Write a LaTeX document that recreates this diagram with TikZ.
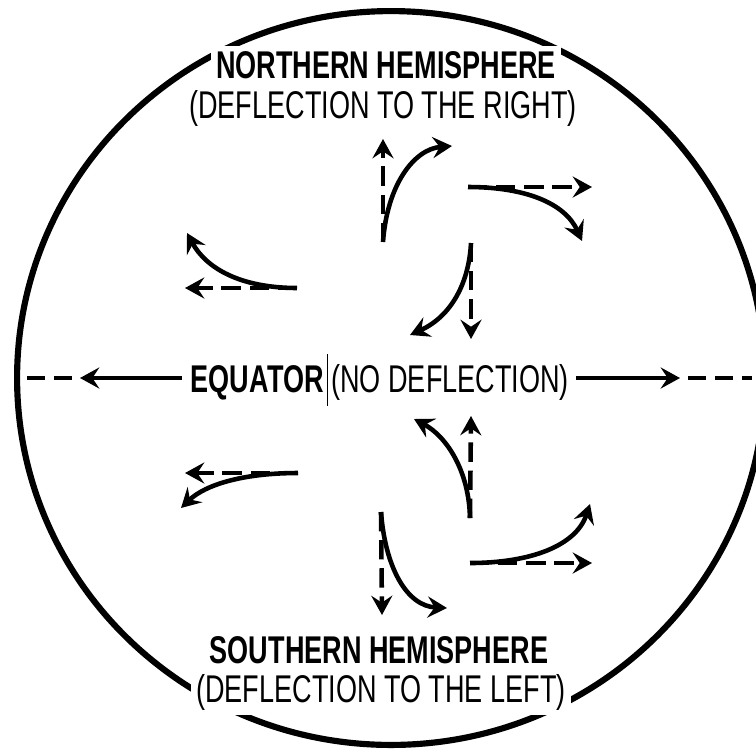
\documentclass[tikz,border=0pt]{standalone}
\usepackage{fontspec}
\setmainfont{Liberation Sans}[FakeStretch=0.70]
\usetikzlibrary{arrows.meta}

\begin{document}
\begin{tikzpicture}[
  x=0.02cm, y=-0.02cm,
  rim/.style         = {line width=3.5pt},
  deflected/.style   = {-{Stealth[length=11pt, width=12pt, inset=4pt]}, line width=2.6pt},
  undeflected/.style = {deflected, dash pattern=on 11pt off 5pt},
  trail/.style       = {line width=2.6pt, dash pattern=on 10pt off 5.5pt},
  title/.style       = {font=\fontsize{22}{26}\selectfont\bfseries, fill=white,
                        inner sep=3pt, anchor=base},
  note/.style        = {font=\fontsize{22}{26}\selectfont, fill=white,
                        inner sep=3pt, anchor=base},
]

% page and globe
\path[use as bounding box, fill=white] (0,0) rectangle (756,751);
\draw[rim] (391,378) ellipse [x radius=7.48cm, y radius=7.34cm];

% labels
\node[title] (north)   at (386,78)  {NORTHERN HEMISPHERE};
\node[note]  (northx)  at (383,118) {(DEFLECTION TO THE RIGHT)};
\node[title] (south)   at (379,663) {SOUTHERN HEMISPHERE};
\node[note]  (southx)  at (381,702) {(DEFLECTION TO THE LEFT)};
\node[title, anchor=base east, inner sep=0pt] (equator) at (324,392) {EQUATOR};
\node[note, anchor=base west, inner sep=0pt]  (nodefl)  at (331,392) {(NO DEFLECTION)};

\coordinate (bartop) at (327.5,354);
\coordinate (barbot) at (327.5,406);
\draw[line width=0.8pt] (bartop) -- (barbot);

% equator: no deflection
\coordinate (eqw)     at (182,378);
\coordinate (eqwtip)  at (80,378);
\coordinate (eqwgap)  at (72,378);
\coordinate (eqwend)  at (24,378);
\coordinate (eqe)     at (576,378);
\coordinate (eqetip)  at (680,378);
\coordinate (eqegap)  at (688,378);
\coordinate (eqeend)  at (752,378);
\draw[deflected] (eqw) -- (eqwtip);
\draw[trail]     (eqwgap) -- (eqwend);
\draw[deflected] (eqe) -- (eqetip);
\draw[trail]     (eqegap) -- (eqeend);

% northern hemisphere
\coordinate (na)  at (383,242);
\coordinate (nad) at (383,139);
\coordinate (nae) at (452,146);
\draw[undeflected] (na) -- (nad);
\draw[deflected] (na) .. controls (387,185) and (414,149) .. (nae);

\coordinate (nb)  at (468,187);
\coordinate (nbd) at (592,187);
\coordinate (nbe) at (582,241);
\draw[undeflected] (nb) -- (nbd);
\draw[deflected] (nb) .. controls (525,187) and (565,203) .. (nbe);

\coordinate (nc)  at (471,243);
\coordinate (ncd) at (471,339);
\coordinate (nce) at (410,335);
\draw[undeflected] (nc) -- (ncd);
\draw[deflected] (nc) .. controls (469,282) and (452,316) .. (nce);

\coordinate (nd)  at (297,288);
\coordinate (ndd) at (185,288);
\coordinate (nde) at (187,233);
\draw[undeflected] (nd) -- (ndd);
\draw[deflected] (nd) .. controls (240,288) and (206,268) .. (nde);

% southern hemisphere
\coordinate (sa)  at (470,518);
\coordinate (sad) at (471,416);
\coordinate (sae) at (414,419);
\draw[undeflected] (sa) -- (sad);
\draw[deflected] (sa) .. controls (469,470) and (446,436) .. (sae);

\coordinate (sb)  at (298,473);
\coordinate (sbd) at (185,473);
\coordinate (sbe) at (181,508);
\draw[undeflected] (sb) -- (sbd);
\draw[deflected] (sb) .. controls (245,473) and (206,484) .. (sbe);

\coordinate (sc)  at (381,512);
\coordinate (scd) at (382,615);
\coordinate (sce) at (447,608);
\draw[undeflected] (sc) -- (scd);
\draw[deflected] (sc) .. controls (385,566) and (406,606) .. (sce);

\coordinate (sd)  at (470,563);
\coordinate (sdd) at (592,563);
\coordinate (sde) at (590,504);
\draw[undeflected] (sd) -- (sdd);
\draw[deflected] (sd) .. controls (530,563) and (576,546) .. (sde);

\end{tikzpicture}
\end{document}
